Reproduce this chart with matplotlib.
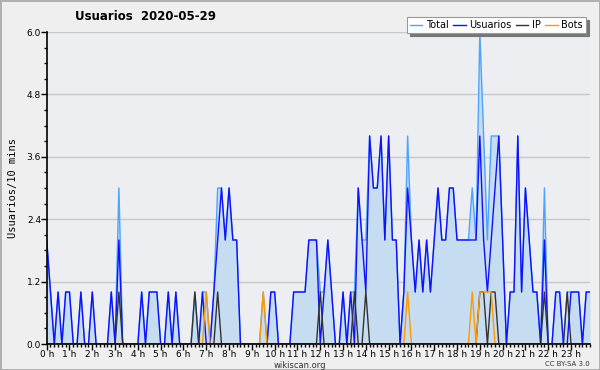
import matplotlib
matplotlib.use('Agg')
import matplotlib.pyplot as plt
from matplotlib.ticker import MultipleLocator
import numpy as np

# valores cada 10 minutos (144 puntos)
usuarios = [2, 1, 0, 1, 0, 1, 1, 0, 0, 1, 0, 0, 1, 0, 0, 0, 0, 1, 0, 2,
            0, 0, 0, 0, 0, 1, 0, 1, 1, 1, 0, 0, 1, 0, 1, 0, 0, 0, 0, 0,
            0, 1, 0, 0, 1, 2, 3, 2, 3, 2, 2, 0, 0, 0, 0, 0, 0, 0, 0, 1,
            1, 0, 0, 0, 0, 1, 1, 1, 1, 2, 2, 2, 0, 1, 2, 1, 0, 0, 1, 0,
            1, 0, 3, 2, 1, 4, 3, 3, 4, 2, 4, 2, 2, 0, 1, 3, 2, 1, 2, 1,
            2, 1, 2, 3, 2, 2, 3, 3, 2, 2, 2, 2, 2, 2, 4, 2, 1, 2, 3, 4,
            2, 0, 1, 1, 4, 1, 3, 2, 1, 1, 0, 2, 0, 0, 1, 1, 0, 0, 1, 1,
            1, 0, 1, 1]
ip_idx = [19, 39, 45, 72, 81, 84, 114, 115, 117, 118, 131, 137]
bots_idx = [42, 57, 95, 112, 114, 115, 116, 117]
hours = ['{:d} h'.format(h) for h in range(24)]

usuarios = np.array(usuarios)
ip = np.zeros(144)
ip[ip_idx] = 1
bots = np.zeros(144)
bots[bots_idx] = 1
total = usuarios + ip + bots
x = np.arange(144)

fig = plt.figure(figsize=(6, 3.7), dpi=100, facecolor='#efefef',
                 edgecolor='#b0b0b0', linewidth=2)
ax = fig.add_axes([46.7 / 600, 26 / 370, (590 - 46.7) / 600, (344 - 32) / 370])
ax.set_facecolor('#eceef1')

ax.fill_between(x, 0, total, color='#c6dcf0', lw=0)
ax.plot(x, total, color='#4da3ff', lw=1, label='Total')
ax.plot(x, usuarios, color='#1010ff', lw=1, label='Usuarios')
ax.plot(x, ip, color='#333333', lw=1, label='IP')
ax.plot(x, bots, color='#ff9900', lw=1, label='Bots')

ax.set_xlim(0, 143)
ax.set_ylim(0, 6)
ax.set_yticks(np.arange(0, 6.01, 1.2))
ax.set_yticklabels(['{:.1f}'.format(v) for v in np.arange(0, 6.01, 1.2)])
ax.yaxis.set_minor_locator(MultipleLocator(0.3))
ax.set_xticks(np.arange(0, 144, 6))
ax.set_xticklabels(hours)
ax.xaxis.set_minor_locator(MultipleLocator(1))
ax.tick_params(axis='both', which='major', labelsize=6.5, length=4, width=1, pad=0)
ax.tick_params(axis='both', which='minor', length=2.5, width=1)
ax.grid(axis='y', color='#c8c8c8', lw=1)
ax.set_axisbelow(True)
for s in ['top', 'right']:
    ax.spines[s].set_visible(False)
ax.spines['left'].set_linewidth(1.2)
ax.spines['bottom'].set_linewidth(1.2)

ax.set_ylabel('Usuarios/10 mins', fontsize=7.5, labelpad=6,
              family='DejaVu Sans Mono')
fig.text(75 / 600, 1 - 16 / 370, 'Usuarios  2020-05-29', fontsize=8.5,
         fontweight='bold', va='center', ha='left')
fig.text(300 / 600, 1 - 365 / 370, 'wikiscan.org', fontsize=6,
         ha='center', va='center', color='#333333')
fig.text(590 / 600, 1 - 364 / 370, 'CC BY-SA 3.0', fontsize=5,
         ha='right', va='center', color='#333333')

leg = fig.legend(loc='upper right', bbox_to_anchor=(586 / 600, 1 - 17 / 370),
                 ncol=4, fontsize=7, frameon=True, fancybox=False,
                 shadow={'color': '#777777', 'alpha': 1}, handlelength=1.3,
                 handletextpad=0.4, columnspacing=0.4, borderpad=0.3,
                 borderaxespad=0)
leg.get_frame().set_edgecolor('#999999')
leg.get_frame().set_linewidth(0.8)

fig.savefig('out.png', dpi=100, facecolor=fig.get_facecolor(),
            edgecolor=fig.get_edgecolor())
